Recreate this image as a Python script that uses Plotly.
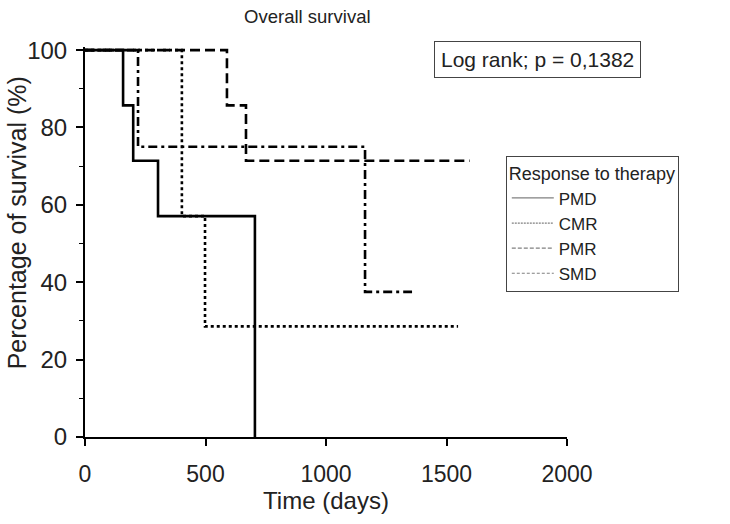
import plotly.graph_objects as go

# Kaplan-Meier step data (days, % survival)
groups = ["PMD", "CMR", "PMR", "SMD"]
pmd_t = [0, 158, 200, 303, 705]
pmd_s = [100, 85.7, 71.4, 57.1, 0]
cmr_t = [0, 402, 498, 1548]
cmr_s = [100, 57.1, 28.6, 28.6]
pmr_t = [0, 589, 668, 1597]
pmr_s = [100, 85.7, 71.4, 71.4]
smd_t = [0, 220, 1162, 1357]
smd_s = [100, 75, 37.5, 37.5]

x_ticks = [0, 500, 1000, 1500, 2000]
y_ticks = [0, 20, 40, 60, 80, 100]

series = [(pmd_t, pmd_s), (cmr_t, cmr_s), (pmr_t, pmr_s), (smd_t, smd_s)]
dashes = ["solid", "3px,3px", "10px,5px", "9px,4px,3px,4px"]
legend_dashes = ["solid", "2px,1px", "4px,2px", "3px,2px"]

FONT = "Liberation Sans, Arial, sans-serif"

fig = go.Figure()

for name, (t, s), d in zip(groups, series, dashes):
    fig.add_trace(go.Scatter(x=t, y=s, mode="lines", line_shape="hv",
                             line=dict(color="black", width=2.6, dash=d),
                             name=name, showlegend=False))

# thin grey legend samples, as in the original key
for name, d in zip(groups, legend_dashes):
    fig.add_trace(go.Scatter(x=[None], y=[None], mode="lines",
                             line=dict(color="#808080", width=1.2, dash=d),
                             name=name, showlegend=True))

fig.update_layout(
    width=730, height=524,
    margin=dict(l=85, r=163, t=47, b=87),
    paper_bgcolor="white", plot_bgcolor="white",
    font=dict(family=FONT, size=22, color="#222"),
    title=dict(text="Overall survival", x=0.421, xanchor="center", y=0.969,
               yanchor="middle", font=dict(size=18.5, color="#222")),
    legend=dict(title=dict(text="Response to therapy", font=dict(size=18)),
                font=dict(size=17), x=0.873, xanchor="left", y=0.7205, yanchor="top",
                bordercolor="#444", borderwidth=1, bgcolor="white",
                itemwidth=42, tracegroupgap=0),
    annotations=[
        dict(text="Log rank; p = 0,1382", xref="paper", yref="paper",
             x=0.938, y=0.969, xanchor="center", yanchor="middle",
             showarrow=False, font=dict(size=21, color="#222"),
             bordercolor="#444", borderwidth=1, borderpad=6, bgcolor="white"),
        dict(text="Percentage of survival (%)", xref="paper", yref="paper",
             x=-0.141, y=0.548, xanchor="center", yanchor="middle", textangle=-90,
             showarrow=False, font=dict(size=25, color="#222")),
    ],
)

fig.update_xaxes(range=[0, 2000], tickvals=x_ticks, ticks="outside", ticklen=7,
                 tickwidth=2, tickcolor="black", showline=True, linecolor="black",
                 linewidth=2, showgrid=False, zeroline=False, automargin=False,
                 ticklabelstandoff=8, tickfont=dict(size=23),
                 title=dict(text="Time (days)", font=dict(size=24), standoff=7))
fig.update_yaxes(range=[0, 100.8], tickvals=y_ticks, ticks="outside", ticklen=7,
                 tickwidth=2, tickcolor="black", showline=True, linecolor="black",
                 linewidth=2, showgrid=False, zeroline=False, automargin=False,
                 ticklabelstandoff=4, tickfont=dict(size=24),
                 minor=dict(tickvals=[10, 30, 50, 70, 90], ticks="outside", ticklen=4,
                            tickwidth=1, tickcolor="black"))

# drop the default 8px page margin so the figure fills the window
fig.write_html("out.html", config={"displayModeBar": False},
               post_script="document.body.style.margin='0px';")
